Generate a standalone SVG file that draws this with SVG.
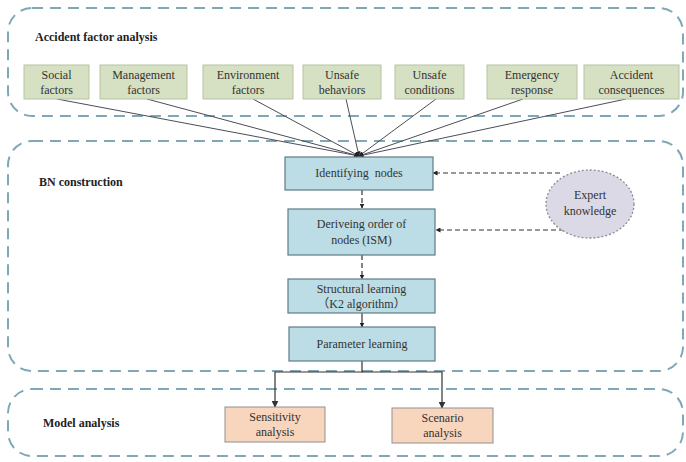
<svg xmlns="http://www.w3.org/2000/svg" width="686" height="462" viewBox="0 0 686 462">
<defs>
<marker id="ah" viewBox="0 0 10 10" refX="9" refY="5" markerWidth="5" markerHeight="5" orient="auto-start-reverse" markerUnits="userSpaceOnUse"><path d="M0,0 L10,5 L0,10 z" fill="#222"/></marker>
<marker id="ah2" viewBox="0 0 10 10" refX="9" refY="5" markerWidth="7" markerHeight="7" orient="auto" markerUnits="userSpaceOnUse"><path d="M0,0 L10,5 L0,10 z" fill="#333"/></marker>
<style>
.cont{fill:none;stroke:#7ea8b6;stroke-width:2;stroke-dasharray:11 7}
.g{fill:#d6e0c2;stroke:#b8c4a2;stroke-width:1}
.b{fill:#bcdde6;stroke:#5e7c86;stroke-width:1.2}
.p{fill:#f8d6bd;stroke:#8f8f8f;stroke-width:1}
.e{fill:#dcd9e7;stroke:#8a8a92;stroke-width:1.3;stroke-dasharray:2 2}
text{font-family:"Liberation Serif","Noto Sans CJK SC",serif;font-size:12px;fill:#333;text-anchor:middle}
.t{font-weight:bold;text-anchor:start;fill:#222}
.ln{stroke:#4d4d55;stroke-width:1;fill:none}
.dl{stroke:#333;stroke-width:1.2;fill:none;stroke-dasharray:5 3}
.sl{stroke:#333;stroke-width:1.2;fill:none}
</style>
</defs>
<g id="containers">
<rect class="cont" x="8" y="8" width="675" height="108" rx="24"/>
<rect class="cont" x="8" y="141" width="675" height="230" rx="24"/>
<rect class="cont" x="8" y="389" width="675" height="67" rx="24"/>
<text class="t" x="35" y="41">Accident factor analysis</text>
<text class="t" x="39" y="186">BN construction</text>
<text class="t" x="43" y="427">Model analysis</text>
</g>
<g id="connectors">
<line class="ln" x1="57" y1="99" x2="359" y2="156" marker-end="url(#ah)"/>
<line class="ln" x1="147" y1="99" x2="359" y2="156" marker-end="url(#ah)"/>
<line class="ln" x1="253" y1="99" x2="359" y2="156" marker-end="url(#ah)"/>
<line class="ln" x1="346" y1="99" x2="359" y2="156" marker-end="url(#ah)"/>
<line class="ln" x1="436" y1="99" x2="359" y2="156" marker-end="url(#ah)"/>
<line class="ln" x1="523" y1="99" x2="359" y2="156" marker-end="url(#ah)"/>
<line class="ln" x1="626" y1="99" x2="359" y2="156" marker-end="url(#ah)"/>
<line class="dl" x1="560" y1="173" x2="433" y2="173" marker-end="url(#ah)"/>
<line class="dl" x1="564" y1="230" x2="436" y2="230" marker-end="url(#ah)"/>
<line class="dl" x1="362" y1="190" x2="362" y2="208" stroke-dasharray="2 2" marker-end="url(#ah)"/>
<line class="dl" x1="362" y1="255" x2="362" y2="279" marker-end="url(#ah)"/>
<line class="sl" x1="362" y1="313" x2="362" y2="327" marker-end="url(#ah)"/>
<polyline class="sl" points="362,361 362,372 275,372 275,407" marker-end="url(#ah2)"/>
<polyline class="sl" points="362,372 442,372 442,408" marker-end="url(#ah2)"/>
</g>
<g id="social"><rect class="g" x="24" y="65" width="65" height="34"/><text x="56.5" y="79">Social</text><text x="56.5" y="94">factors</text></g>
<g id="management"><rect class="g" x="100" y="65" width="87" height="34"/><text x="143.5" y="79">Management</text><text x="143.5" y="94">factors</text></g>
<g id="environment"><rect class="g" x="203" y="65" width="90" height="34"/><text x="248" y="79">Environment</text><text x="248" y="94">factors</text></g>
<g id="unsafe-behaviors"><rect class="g" x="303" y="65" width="78" height="34"/><text x="342" y="79">Unsafe</text><text x="342" y="94">behaviors</text></g>
<g id="unsafe-conditions"><rect class="g" x="395" y="65" width="69" height="34"/><text x="429.5" y="79">Unsafe</text><text x="429.5" y="94">conditions</text></g>
<g id="emergency"><rect class="g" x="487" y="65" width="90" height="34"/><text x="532" y="79">Emergency</text><text x="532" y="94">response</text></g>
<g id="accident"><rect class="g" x="584" y="65" width="95" height="34"/><text x="631.5" y="79">Accident</text><text x="631.5" y="94">consequences</text></g>
<g id="identifying"><rect class="b" x="285" y="157" width="148" height="33"/><text x="359" y="177" xml:space="preserve">Identifying  nodes</text></g>
<g id="deriving"><rect class="b" x="288" y="209" width="147" height="46"/><text x="361.5" y="228">Deriveing order of</text><text x="361.5" y="244">nodes (ISM)</text></g>
<g id="structural"><rect class="b" x="288" y="279" width="147" height="34"/><text x="361.5" y="293">Structural learning</text><text x="361.5" y="308">（K2 algorithm）</text></g>
<g id="parameter"><rect class="b" x="289" y="327" width="146" height="34"/><text x="362" y="348">Parameter learning</text></g>
<g id="expert"><ellipse class="e" cx="590" cy="204" rx="44" ry="34"/><text x="590" y="199">Expert</text><text x="590" y="215">knowledge</text></g>
<g id="sensitivity"><rect class="p" x="225" y="407" width="100" height="35"/><text x="275" y="421">Sensitivity</text><text x="275" y="436">analysis</text></g>
<g id="scenario"><rect class="p" x="392" y="408" width="101" height="35"/><text x="442.5" y="422">Scenario</text><text x="442.5" y="437">analysis</text></g>
</svg>
